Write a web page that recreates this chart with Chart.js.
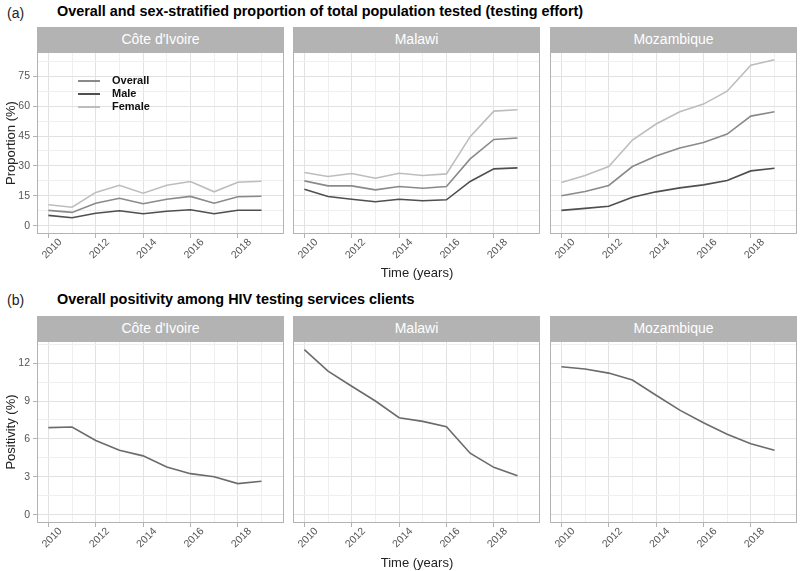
<!DOCTYPE html>
<html>
<head>
<meta charset="utf-8">
<script src="https://cdn.jsdelivr.net/npm/chart.js@4.4.1/dist/chart.umd.min.js"></script>
<style>
  body { margin: 0; background: #fff; font-family: "Liberation Sans", Arial, sans-serif; }
  #wrap { position: relative; width: 800px; height: 571px; overflow: hidden; }
  .txt { position: absolute; white-space: nowrap; }
  .strip { position: absolute; background: #b3b3b3; color: #fff; font-size: 14px; text-align: center; }
  canvas { position: absolute; }
  .leg { position: absolute; font-size: 11px; font-weight: bold; color: #111; }
  .leg span { position: absolute; left: 0; width: 22px; height: 2px; }
</style>
</head>
<body>
<div id="wrap">
  <div class="txt" style="left:7px;top:5px;font-size:14px;color:#222">(a)</div>
  <div class="txt" style="left:57px;top:3px;font-size:14.4px;font-weight:bold">Overall and sex-stratified proportion of total population tested (testing effort)</div>
  <div class="txt" style="left:7px;top:292px;font-size:14px;color:#222">(b)</div>
  <div class="txt" style="left:57px;top:291px;font-size:14.4px;font-weight:bold">Overall positivity among HIV testing services clients</div>
</div>
<script>
const years = [2010, 2011, 2012, 2013, 2014, 2015, 2016, 2017, 2018, 2019];
const countries = ["Côte d'Ivoire", 'Malawi', 'Mozambique'];
const seriesNames = ['Overall', 'Male', 'Female'];
const seriesColors = ['#8a8a8a', '#4f4f4f', '#bdbdbd'];

const overallCIV = [7.7, 6.7, 11.3, 13.8, 11.0, 13.3, 14.7, 11.3, 14.5, 14.8];
const maleCIV = [5.2, 4.0, 6.3, 7.5, 6.0, 7.3, 8.0, 6.0, 7.8, 7.8];
const femaleCIV = [10.5, 9.3, 16.7, 20.3, 16.3, 20.3, 22.2, 17.0, 21.8, 22.3];
const overallMWI = [22.5, 20.0, 20.0, 18.0, 19.7, 18.8, 19.7, 33.5, 43.3, 44.0];
const maleMWI = [18.3, 14.7, 13.3, 12.0, 13.3, 12.5, 13.0, 22.2, 28.5, 29.0];
const femaleMWI = [26.7, 24.7, 26.2, 23.8, 26.3, 25.2, 26.0, 44.7, 57.5, 58.2];
const overallMOZ = [15.0, 17.2, 20.2, 29.7, 35.0, 39.0, 41.7, 46.0, 55.0, 57.2];
const maleMOZ = [7.7, 8.7, 9.8, 14.3, 17.0, 19.0, 20.5, 22.7, 27.5, 28.8];
const femaleMOZ = [21.7, 25.2, 29.7, 43.0, 51.0, 57.2, 61.0, 67.5, 80.5, 83.3];

const positivityCIV = [6.89, 6.94, 5.87, 5.1, 4.66, 3.77, 3.25, 3.0, 2.46, 2.65];
const positivityMWI = [13.07, 11.37, 10.17, 9.0, 7.68, 7.39, 6.97, 4.87, 3.75, 3.09];
const positivityMOZ = [11.71, 11.53, 11.21, 10.66, 9.46, 8.28, 7.28, 6.37, 5.61, 5.11];

const yearTicks = [2010, 2012, 2014, 2016, 2018];
const proportionTicks = [0, 15, 30, 45, 60, 75];
const positivityTicks = [0, 3, 6, 9, 12];

// panel geometry (ggplot facet layout)
const colLeft = [37, 293, 550];
const panelW = 247;
const panelH = 182;
const stripH = 25;
const xAxisH = 38;

const wrap = document.getElementById('wrap');

// major + minor (midpoint) breaks like ggplot
function withMinor(major) {
  const step = major[1] - major[0];
  const out = [];
  major.forEach((v) => { out.push(v); out.push(v + step / 2); });
  return out;
}

const panelBorder = {
  id: 'panelBorder',
  afterDatasetsDraw(chart) {
    const a = chart.chartArea;
    const c = chart.ctx;
    c.save();
    c.strokeStyle = '#b3b3b3';
    c.lineWidth = 1;
    c.strokeRect(Math.round(a.left) + 0.5, Math.round(a.top) + 0.5,
      Math.round(a.right - a.left) - 1, Math.round(a.bottom - a.top) - 1);
    c.restore();
  },
};

function addText(html, style) {
  const d = document.createElement('div');
  d.className = 'txt';
  d.style.cssText = style;
  d.innerHTML = html;
  wrap.appendChild(d);
}

function makePanel(col, top, datasets, yMin, yMax, yMajor) {
  const padL = col === 0 ? 37 : 14;
  const strip = document.createElement('div');
  strip.className = 'strip';
  strip.style.cssText = `left:${colLeft[col]}px;top:${top - stripH}px;width:${panelW}px;height:${stripH}px;line-height:${stripH}px`;
  strip.textContent = countries[col];
  wrap.appendChild(strip);

  const canvas = document.createElement('canvas');
  canvas.width = panelW + padL;
  canvas.height = panelH + xAxisH;
  canvas.style.left = colLeft[col] - padL + 'px';
  canvas.style.top = top + 'px';
  wrap.appendChild(canvas);

  const yAll = withMinor(yMajor);
  new Chart(canvas, {
    type: 'line',
    data: {
      datasets: datasets.map((ds) => ({
        label: ds.label,
        data: years.map((y, i) => ({ x: y, y: ds.values[i] })),
        borderColor: ds.color,
        borderWidth: 1.6,
        pointRadius: 0,
        tension: 0,
        fill: false,
      })),
    },
    options: {
      responsive: false,
      animation: false,
      layout: { padding: 0 },
      plugins: { legend: { display: false }, tooltip: { enabled: false } },
      scales: {
        x: {
          type: 'linear',
          min: 2009.52,
          max: 2019.95,
          afterBuildTicks: (s) => { s.ticks = years.map((v) => ({ value: v })); },
          afterFit: (s) => { s.height = xAxisH; s.paddingLeft = 0; s.paddingRight = 0; },
          border: { display: false },
          grid: {
            color: (ctx) => (yearTicks.includes(ctx.tick.value) ? '#e2e2e2' : '#efefef'),
            tickColor: (ctx) => (yearTicks.includes(ctx.tick.value) ? '#b3b3b3' : 'rgba(0,0,0,0)'),
            tickLength: 4,
          },
          ticks: {
            autoSkip: false,
            minRotation: 45,
            maxRotation: 45,
            labelOffset: 12,
            padding: -2,
            color: '#555',
            font: { family: 'Liberation Sans', size: 10.5 },
            callback: (v) => (yearTicks.includes(v) ? String(v) : ''),
          },
        },
        y: {
          type: 'linear',
          min: yMin,
          max: yMax,
          afterBuildTicks: (s) => { s.ticks = yAll.filter((v) => v > yMin && v < yMax).map((v) => ({ value: v })); },
          afterFit: (s) => { s.width = padL; s.paddingTop = 0; s.paddingBottom = 0; },
          border: { display: false },
          grid: {
            color: (ctx) => (yMajor.includes(ctx.tick.value) ? '#e2e2e2' : '#efefef'),
            tickColor: (ctx) => (yMajor.includes(ctx.tick.value) ? '#b3b3b3' : 'rgba(0,0,0,0)'),
            tickLength: 4,
            drawTicks: col === 0,
          },
          ticks: {
            display: col === 0,
            padding: 3,
            color: '#555',
            font: { family: 'Liberation Sans', size: 10.5 },
            callback: (v) => (yMajor.includes(v) ? String(v) : ''),
          },
        },
      },
    },
    plugins: [panelBorder],
  });
}

// (a) testing effort
const topRow = 52;
const propData = [
  [overallCIV, maleCIV, femaleCIV],
  [overallMWI, maleMWI, femaleMWI],
  [overallMOZ, maleMOZ, femaleMOZ],
];
propData.forEach((group, col) => {
  // draw Female first so darker lines sit on top
  const ds = [2, 0, 1].map((k) => ({ label: seriesNames[k], values: group[k], color: seriesColors[k] }));
  makePanel(col, topRow, ds, -4.15, 87.15, proportionTicks);
});

// (b) positivity
const bottomRow = 341;
[positivityCIV, positivityMWI, positivityMOZ].forEach((vals, col) => {
  makePanel(col, bottomRow, [{ label: 'Positivity', values: vals, color: '#6b6b6b' }], -0.655, 13.75, positivityTicks);
});

// legend inside first panel
seriesNames.forEach((name, i) => {
  const d = document.createElement('div');
  d.className = 'leg';
  d.style.left = '78px';
  d.style.top = 74 + i * 13 + 'px';
  d.innerHTML = `<span style="top:6px;background:${seriesColors[i]}"></span><b style="position:absolute;left:34px;top:0;line-height:13px">${name}</b>`;
  wrap.appendChild(d);
});

// axis titles
addText('Proportion (%)', 'left:10px;top:143px;font-size:13px;color:#222;transform:translate(-50%,-50%) rotate(-90deg)');
addText('Time (years)', 'left:417px;top:272px;font-size:13px;color:#222;transform:translate(-50%,-50%)');
addText('Positivity (%)', 'left:10px;top:432px;font-size:13px;color:#222;transform:translate(-50%,-50%) rotate(-90deg)');
addText('Time (years)', 'left:417px;top:562px;font-size:13px;color:#222;transform:translate(-50%,-50%)');
</script>
</body>
</html>
